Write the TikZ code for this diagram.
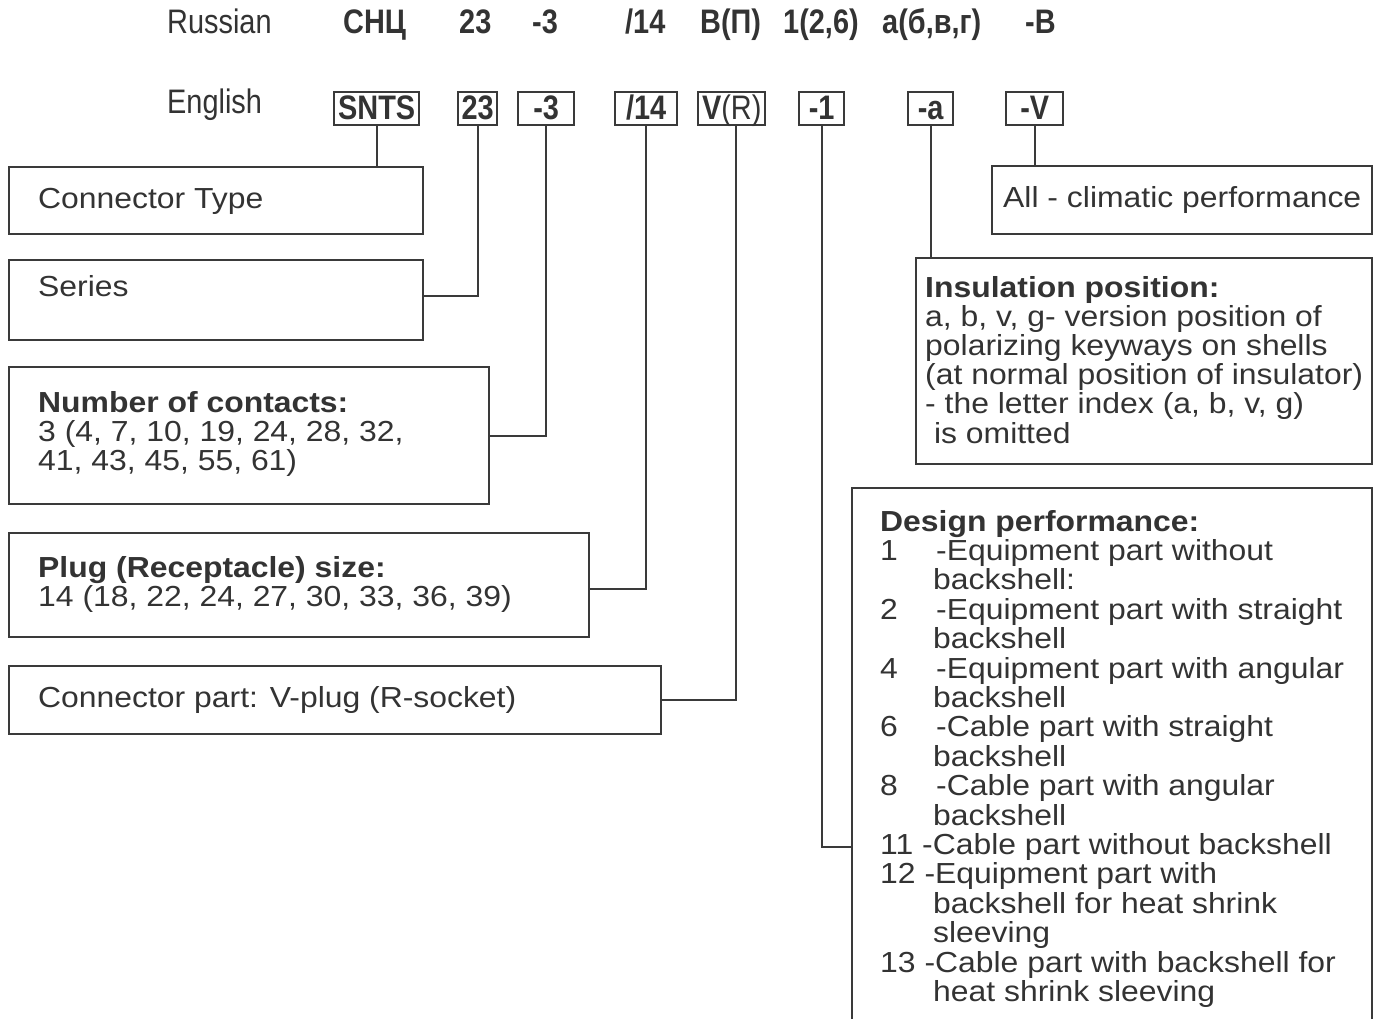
\documentclass[tikz,border=0pt]{standalone}
\usepackage{fontspec}
\setmainfont{Liberation Sans}
\newfontfamily\bodyf[FakeStretch=1.1]{Liberation Sans}
\newfontfamily\narrowf[FakeStretch=0.85]{Liberation Sans}
\definecolor{ink}{HTML}{333333}
\definecolor{linec}{HTML}{3A3A3A}
\begin{document}
\begin{tikzpicture}[x=1pt,y=-1pt,
  bigbox/.style={draw=linec, line width=2.4pt, inner sep=0pt, anchor=north west},
  codebox/.style={draw=linec, line width=2.4pt, inner sep=0pt, anchor=north west,
     minimum height=33pt, text height=24pt, text depth=3pt, text=ink,
     font=\narrowf\bfseries\fontsize{34}{34}\selectfont},
  lbl/.style={inner sep=0pt, anchor=base west, text=ink, font=\bodyf\fontsize{29}{29}\selectfont},
  hd/.style={lbl, font=\bodyf\bfseries\fontsize{29}{29}\selectfont},
  toptxt/.style={inner sep=0pt, anchor=base west, text=ink, font=\narrowf\fontsize{34}{34}\selectfont},
  topbold/.style={toptxt, font=\narrowf\bfseries\fontsize{34}{34}\selectfont},
  conn/.style={draw=linec, line width=2.4pt}]
\useasboundingbox (0,0) rectangle (1376,1019);
\begin{scope}
\clip (0,0) rectangle (1376,1019);
% top row (Russian)
\node[toptxt] (ru) at (167,34) {Russian};
\node[topbold] (r1) at (343,34) {СНЦ};
\node[topbold] (r2) at (459,34) {23};
\node[topbold] (r3) at (532,34) {-3};
\node[topbold] (r4) at (625,34) {/14};
\node[topbold] (r5) at (700,34) {В(П)};
\node[topbold] (r6) at (783,34) {1(2,6)};
\node[topbold] (r7) at (882,34) {а(б,в,г)};
\node[topbold] (r8) at (1025,34) {-В};
% English row
\node[toptxt] (en) at (167,114) {English};
\node[codebox, minimum width=85pt] (sn) at (333,91) {SNTS};
\node[codebox, minimum width=39pt] (c23) at (457,91) {23};
\node[codebox, minimum width=56pt] (c3) at (517,91) {-3};
\node[codebox, minimum width=62pt] (c14) at (614,91) {/14};
\node[codebox, minimum width=67pt] (cvr) at (697,91) {V\mdseries(R)};
\node[codebox, minimum width=45pt] (c1) at (798,91) {-1};
\node[codebox, minimum width=45pt] (ca) at (907,91) {-a};
\node[codebox, minimum width=57pt] (cv) at (1005,91) {-V};
% description boxes
\node[bigbox, minimum width=414pt, minimum height=67pt] (ct) at (8,166) {};
\node[bigbox, minimum width=414pt, minimum height=80pt] (ser) at (8,259) {};
\node[bigbox, minimum width=480pt, minimum height=137pt] (noc) at (8,366) {};
\node[bigbox, minimum width=580pt, minimum height=104pt] (plug) at (8,532) {};
\node[bigbox, minimum width=652pt, minimum height=68pt] (part) at (8,665) {};
\node[bigbox, minimum width=380pt, minimum height=68pt] (clim) at (991,165) {};
\node[bigbox, minimum width=456pt, minimum height=206pt] (ins) at (915,257) {};
\node[bigbox, minimum width=520pt, minimum height=560pt] (dp) at (851,487) {};
% texts
\node[lbl] (tct) at (38,209) {Connector Type};
\node[lbl] (tser) at (38,296) {Series};
\node[hd] (tnoc) at (38,412) {Number of contacts:};
\node[lbl] (tnoc1) at (38,441) {3 (4, 7, 10, 19, 24, 28, 32,};
\node[lbl] (tnoc2) at (38,470) {41, 43, 45, 55, 61)};
\node[hd] (tplug) at (38,577) {Plug (Receptacle) size:};
\node[lbl] (tplug1) at (38,606) {14 (18, 22, 24, 27, 30, 33, 36, 39)};
\node[lbl] (tpart) at (38,707) {Connector part: V-plug (R-socket)};
\node[lbl] (tclim) at (1003,208) {All - climatic performance};
\node[hd] (tins) at (925,297) {Insulation position:};
\node[lbl] (tins1) at (925,326.2) {a, b, v, g- version position of};
\node[lbl] (tins2) at (925,355.4) {polarizing keyways on shells};
\node[lbl] (tins3) at (925,384.6) {(at normal position of insulator)};
\node[lbl] (tins4) at (925,413.8) {- the letter index (a, b, v, g)};
\node[lbl] (tins5) at (925,443) {\ is omitted};
\node[hd] (tdp) at (880,531) {Design performance:};
\node[lbl] (n1) at (880,560.4) {1};
\node[lbl] (d1) at (936,560.4) {-Equipment part without};
\node[lbl] (d1b) at (933,589.8) {backshell:};
\node[lbl] (n2) at (880,619.2) {2};
\node[lbl] (d2) at (936,619.2) {-Equipment part with straight};
\node[lbl] (d2b) at (933,648.6) {backshell};
\node[lbl] (n4) at (880,678) {4};
\node[lbl] (d4) at (936,678) {-Equipment part with angular};
\node[lbl] (d4b) at (933,707.4) {backshell};
\node[lbl] (n6) at (880,736.8) {6};
\node[lbl] (d6) at (936,736.8) {-Cable part with straight};
\node[lbl] (d6b) at (933,766.2) {backshell};
\node[lbl] (n8) at (880,795.6) {8};
\node[lbl] (d8) at (936,795.6) {-Cable part with angular};
\node[lbl] (d8b) at (933,825) {backshell};
\node[lbl] (d11) at (880,854.4) {11 -Cable part without backshell};
\node[lbl] (d12) at (880,883.8) {12 -Equipment part with};
\node[lbl] (d12b) at (933,913.2) {backshell for heat shrink};
\node[lbl] (d12c) at (933,942.6) {sleeving};
\node[lbl] (d13) at (880,972) {13 -Cable part with backshell for};
\node[lbl] (d13b) at (933,1001.4) {heat shrink sleeving};
% connectors
\coordinate (dpin) at (851,847);
\draw[conn] (sn.south) -- (sn.south |- ct.north);
\draw[conn] (c23.south) |- ([yshift=4pt]ser.east);
\draw[conn] (c3.south) |- (noc.east);
\draw[conn] (c14.south) |- ([yshift=-4pt]plug.east);
\draw[conn] ([xshift=4pt]cvr.south) |- (part.east);
\draw[conn] (c1.south) |- (dpin);
\draw[conn] (ca.south) -- (ca.south |- ins.north);
\draw[conn] (cv.south) -- (cv.south |- clim.north);
\end{scope}
\end{tikzpicture}
\end{document}
